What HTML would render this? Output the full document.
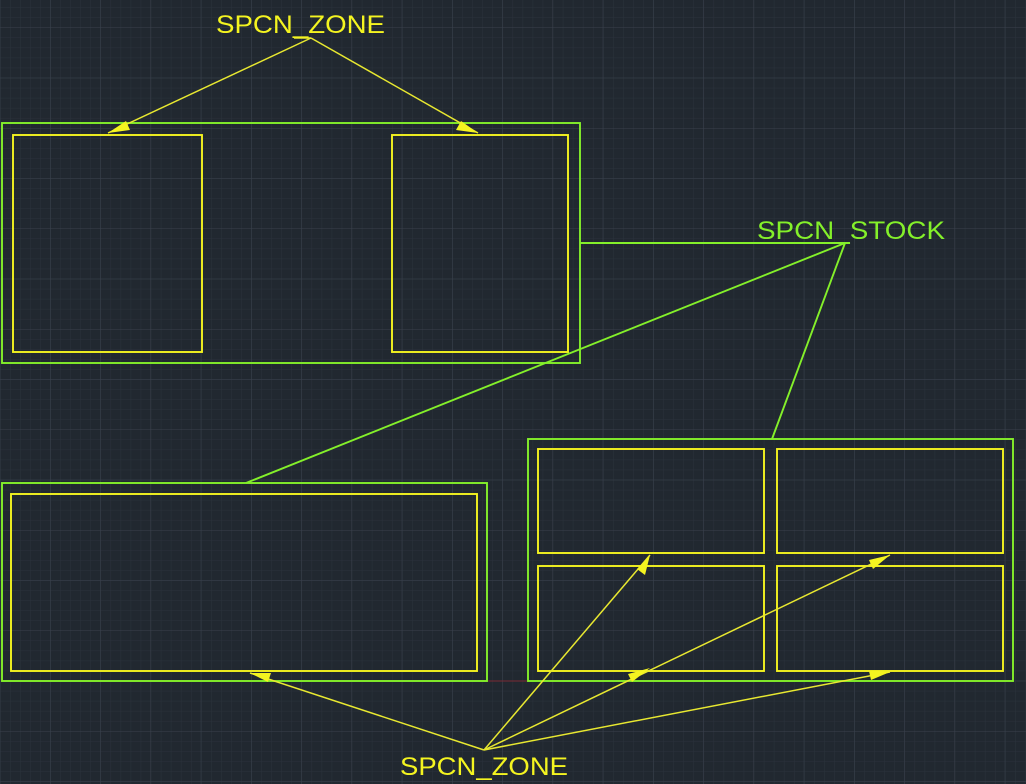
<!DOCTYPE html>
<html><head><meta charset="utf-8"><style>
html,body{margin:0;padding:0;background:#212830;}
svg{display:block;}
text{font-family:"Liberation Sans",sans-serif;font-size:25px;}
</style></head><body>
<svg width="1026" height="784" viewBox="0 0 1026 784" xmlns="http://www.w3.org/2000/svg">
<defs>
<pattern id="minor" x="0" y="7.4" width="10.05" height="10.05" patternUnits="userSpaceOnUse">
<path d="M0 0H10.05M0 0V10.05" stroke="#2b323c" stroke-width="1" fill="none"/>
</pattern>
<pattern id="major" x="50" y="27.5" width="50.25" height="50.25" patternUnits="userSpaceOnUse">
<path d="M0 0H50.25M0 0V50.25" stroke="#3a414d" stroke-width="1" fill="none"/>
</pattern>
</defs>
<rect width="1026" height="784" fill="#212830"/>
<rect width="1026" height="784" fill="url(#minor)"/>
<rect width="1026" height="784" fill="url(#major)"/>
<line x1="270" y1="681" x2="528" y2="681" stroke="#7a2a35" stroke-width="1"/>

<g fill="none" stroke="#84f02a" stroke-width="1.9">
<rect x="2" y="123" width="578" height="240"/>
<rect x="2" y="483" width="485" height="198"/>
<rect x="528" y="439" width="485" height="242"/>
<polyline points="580,243 850,243"/>
<line x1="845" y1="243" x2="246" y2="483"/>
<line x1="845" y1="243" x2="772" y2="439"/>
</g>
<g fill="none" stroke="#f4f420" stroke-width="1.9">
<rect x="13" y="135" width="189" height="217"/>
<rect x="392" y="135" width="176" height="217"/>
<rect x="11" y="494" width="466" height="177"/>
<rect x="538" y="449" width="226" height="104"/>
<rect x="777" y="449" width="226" height="104"/>
<rect x="538" y="566" width="226" height="105"/>
<rect x="777" y="566" width="226" height="105"/>
</g>
<g stroke="#e8e830" stroke-width="1.5" fill="none">
<polyline points="294,38 311,38 108,133"/>
<line x1="311" y1="38" x2="478" y2="133"/>
<line x1="484" y1="750" x2="250" y2="673"/>
<line x1="484" y1="750" x2="650" y2="555"/>
<line x1="484" y1="750" x2="890" y2="555"/>
<line x1="484" y1="750" x2="890" y2="672"/>
</g>
<g fill="#f4f420">
<polygon points="108,133 126,121 130,130"/>
<polygon points="478,133 456,130 461,121"/>
<polygon points="250,673 271,673 268,682"/>
<polygon points="650,555 645,575 637,569"/>
<polygon points="890,555 873,569 869,560"/>
<polygon points="650,668 632,682 628,674"/>
<polygon points="890,672 871,680 869,671"/>
</g>
<text x="216" y="33" fill="#f4f420" textLength="169" lengthAdjust="spacingAndGlyphs">SPCN_ZONE</text>
<text x="757" y="239" fill="#84f02a" textLength="188" lengthAdjust="spacingAndGlyphs">SPCN_STOCK</text>
<text x="400" y="775" fill="#f4f420" textLength="168" lengthAdjust="spacingAndGlyphs">SPCN_ZONE</text>
</svg>
</body></html>
